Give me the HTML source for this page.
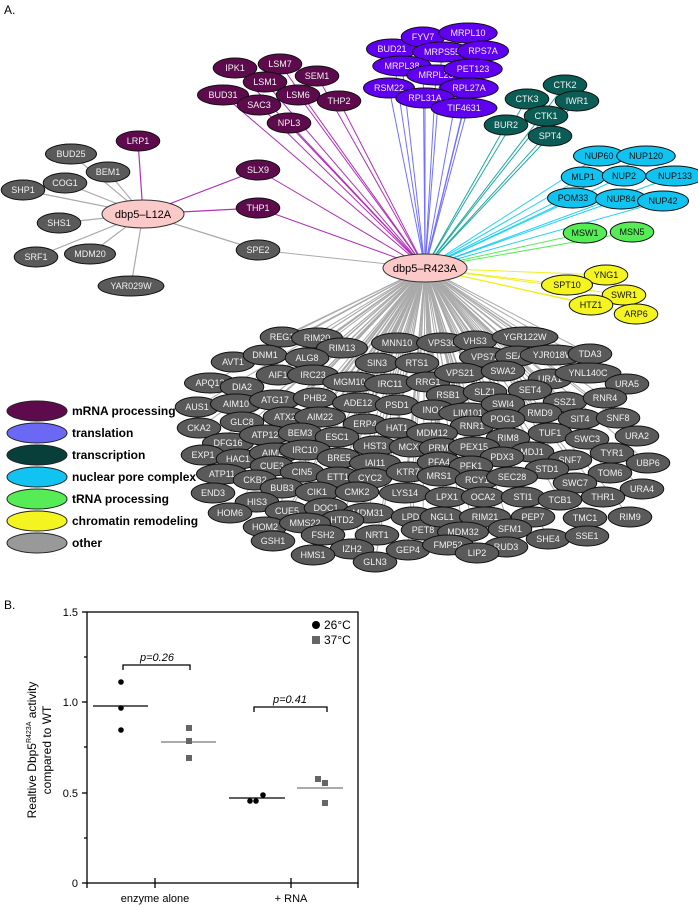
<!DOCTYPE html>
<html><head><meta charset="utf-8"><style>
body{margin:0;background:#fff;width:698px;height:907px;overflow:hidden}
svg{display:block;font-family:"Liberation Sans",sans-serif}
</style></head><body>
<svg id="s" width="698" height="907" viewBox="0 0 698 907" xmlns="http://www.w3.org/2000/svg">
<g id="edges"></g><g id="nodes"></g>
<text x="4" y="14" font-size="12">A.</text>
<text x="4" y="609" font-size="12">B.</text>
<g font-size="12" font-weight="bold">
<ellipse cx="37" cy="411" rx="30" ry="10" fill="#5e0b4d" stroke="#222"/><text x="72" y="415">mRNA processing</text>
<ellipse cx="37" cy="433" rx="30" ry="10" fill="#6b68f5" stroke="#222"/><text x="72" y="437">translation</text>
<ellipse cx="37" cy="455" rx="30" ry="10" fill="#083f3a" stroke="#222"/><text x="72" y="459">transcription</text>
<ellipse cx="37" cy="477" rx="30" ry="10" fill="#11c3f0" stroke="#222"/><text x="72" y="481">nuclear pore complex</text>
<ellipse cx="37" cy="499" rx="30" ry="10" fill="#55ec55" stroke="#222"/><text x="72" y="503">tRNA processing</text>
<ellipse cx="37" cy="521" rx="30" ry="10" fill="#f4f421" stroke="#222"/><text x="72" y="525">chromatin remodeling</text>
<ellipse cx="37" cy="543" rx="30" ry="10" fill="#999" stroke="#222"/><text x="72" y="547">other</text>
</g>
<g stroke="#000" stroke-width="1.3" fill="none">
<rect x="87" y="612" width="271" height="271"/>
<line x1="82" y1="883" x2="87" y2="883"/><line x1="82" y1="793" x2="87" y2="793"/><line x1="82" y1="702" x2="87" y2="702"/><line x1="82" y1="612" x2="87" y2="612"/>
<line x1="84" y1="838" x2="87" y2="838"/><line x1="84" y1="747" x2="87" y2="747"/><line x1="84" y1="657" x2="87" y2="657"/>
<line x1="155" y1="878" x2="155" y2="888"/><line x1="291" y1="878" x2="291" y2="888"/><line x1="87" y1="883" x2="87" y2="888"/><line x1="358" y1="883" x2="358" y2="888"/>
<polyline points="123,670 123,665 190,665 190,670"/>
<polyline points="254,712 254,707 327,707 327,712"/>
<line x1="93" y1="706" x2="148" y2="706"/><line x1="229" y1="798" x2="285" y2="798"/>
</g>
<g stroke="#777" stroke-width="1.3"><line x1="161" y1="742" x2="216" y2="742"/><line x1="297" y1="788" x2="343" y2="788"/></g>
<g fill="#000"><circle cx="121" cy="682" r="2.8"/><circle cx="121" cy="708" r="2.8"/><circle cx="121" cy="730" r="2.8"/>
<circle cx="250" cy="801" r="2.8"/><circle cx="256" cy="801" r="2.8"/><circle cx="263" cy="795" r="2.8"/><circle cx="316" cy="625" r="4"/></g>
<g fill="#666"><rect x="186" y="725" width="6" height="6"/><rect x="186" y="738" width="6" height="6"/><rect x="186" y="755" width="6" height="6"/>
<rect x="315" y="776" width="6" height="6"/><rect x="322" y="780" width="6" height="6"/><rect x="322" y="800" width="6" height="6"/><rect x="312" y="636" width="8" height="8"/></g>
<g font-size="11" fill="#000">
<text x="78" y="887" text-anchor="end">0</text><text x="78" y="797" text-anchor="end">0.5</text><text x="78" y="706" text-anchor="end">1.0</text><text x="78" y="616" text-anchor="end">1.5</text>
<text x="155" y="902" text-anchor="middle">enzyme alone</text><text x="291" y="902" text-anchor="middle">+ RNA</text>
<text x="157" y="661" text-anchor="middle" font-style="italic">p=0.26</text><text x="290" y="703" text-anchor="middle" font-style="italic">p=0.41</text>
<text x="324" y="629" font-size="12">26°C</text><text x="324" y="644" font-size="12">37°C</text>
<g transform="translate(36,750) rotate(-90)" text-anchor="middle" font-size="12"><text x="0" y="0">Realtive Dbp5<tspan font-size="7" dy="-5">R423A</tspan><tspan dy="5"> activity</tspan></text><text x="0" y="15">compared to WT</text></g>
</g>
</svg>
<script>
var R=[425,268],L=[143,214];
var P='#5e0b4d',B='#6000f0',T='#0b5c55',C='#11c3f0',G='#55ec55',Y='#f4f421',D='#5a5a5a';
var EC={};EC[P]='#b030b8';EC[B]='#7070ff';EC[T]='#20a8a0';EC[C]='#20d0f8';EC[G]='#55ee55';EC[Y]='#f0f020';EC[D]='#aaa';
var n=[
[P,'IPK1',235,68,'R'],[P,'LSM7',280,64,'R'],[P,'SEM1',317,76,'R'],[P,'LSM1',265,82,'R'],[P,'BUD31',223,95,'R'],[P,'LSM6',298,95,'R'],[P,'THP2',339,101,'R'],[P,'SAC3',259,105,'R'],[P,'NPL3',289,123,'R'],
[P,'LRP1',138,141,'L'],[P,'SLX9',258,170,'RL'],[P,'THP1',258,208,'RL'],
[B,'BUD21',392,49,'R'],[B,'FYV7',423,37,'R'],[B,'MRPL10',468,33,'R'],[B,'MRPS55',442,52,'R'],[B,'RPS7A',483,51,'R'],[B,'MRPL38',402,66,'R'],[B,'MRPL23',436,75,'R'],[B,'PET123',473,69,'R'],[B,'RSM22',389,88,'R'],[B,'RPL27A',469,88,'R'],[B,'RPL31A',425,98,'R'],[B,'TIF4631',464,108,'R'],
[T,'CTK2',565,85,'R'],[T,'CTK3',527,99,'R'],[T,'IWR1',577,101,'R'],[T,'CTK1',546,116,'R'],[T,'BUR2',506,125,'R'],[T,'SPT4',550,136,'R'],
[C,'NUP60',599,156,'R'],[C,'NUP120',646,156,'R'],[C,'MLP1',583,177,'R'],[C,'NUP2',624,176,'R'],[C,'NUP133',675,176,'R'],[C,'POM33',573,198,'R'],[C,'NUP84',621,199,'R'],[C,'NUP42',663,201,'R'],
[G,'MSW1',585,233,'R'],[G,'MSN5',632,232,'R'],
[Y,'YNG1',606,275,'R'],[Y,'SPT10',567,285,'R'],[Y,'SWR1',624,295,'R'],[Y,'HTZ1',591,305,'R'],[Y,'ARP6',636,314,'R'],
[D,'BUD25',71,154,'L'],[D,'BEM1',108,172,'L'],[D,'COG1',65,183,'L'],[D,'SHP1',23,190,'L'],[D,'SHS1',59,223,'L'],[D,'SRF1',36,257,'L'],[D,'MDM20',90,254,'L'],[D,'YAR029W',131,286,'L'],[D,'SPE2',258,250,'RL']];
var g="REG1 282 337,RIM20 317 338,RIM13 342 348,MNN10 397 343,AVT1 233 362,DNM1 265 355,ALG8 307 358,SIN3 377 363,RTS1 417 363,AIF1 278 375,IRC23 313 375,MGM101 352 382,IRC11 390 384,APQ12 210 383,DIA2 242 387,AUS1 197 407,AIM10 236 404,ATG17 275 400,PHB2 315 398,ADE12 358 403,PSD1 397 405,CKA2 199 428,GLC8 242 422,ATX2 285 417,AIM22 320 417,ERP4 365 424,HAT1 397 428,DFG16 228 443,ATP12 265 435,BEM3 300 433,ESC1 337 437,EXP1 203 455,HAC1 238 459,AIM20 275 453,IRC10 305 450,BRE5 339 458,HST3 375 446,MCX1 411 447,IAI11 375 463,ATP11 222 474,CUE3 272 466,CKB2 255 480,CIN5 302 472,ETT1 338 477,CYC2 370 478,KTR7 408 472,END3 213 493,BUB3 282 488,HIS3 257 502,CIK1 317 492,CMK2 357 492,LYS14 405 493,HOM6 230 513,CUE5 287 511,DOC1 326 508,MDM31 368 513,HTD2 342 520,LPD1 413 517,HOM2 265 527,MMS22 305 523,FSH2 323 535,NRT1 377 535,PET8 423 530,GSH1 273 541,IZH2 352 549,HMS1 313 555,GLN3 375 562,GEP4 408 550,VPS36 442 343,VHS3 475 341,YGR122W 525 337,VPS72 485 357,SEA4 517 356,YJR018W 553 355,TDA3 590 354,RRG1 428 382,VPS21 460 373,SWA2 503 371,URA1 550 379,YNL140C 588 373,URA5 627 384,RSB1 448 395,SLZ1 485 392,SET4 530 390,SSZ1 565 402,RNR4 605 398,INO4 433 410,LIM101 468 413,SWI4 503 404,RMD9 540 413,SIT4 580 419,SNF8 618 418,RNR1 472 426,POG1 503 419,MDM12 432 433,RIM8 508 438,TUF1 550 433,SWC3 587 439,URA2 637 436,PRM4 441 448,PEX15 474 447,MDJ1 532 452,PDX3 502 457,SNF7 570 460,TYR1 612 453,UBP6 648 463,PFA4 439 462,PFK1 471 466,STD1 547 469,TOM6 610 473,MRS1 439 476,RCY1 477 480,SEC28 512 477,SWC7 575 483,URA4 642 489,LPX1 447 497,OCA2 483 497,STI1 523 497,TCB1 560 500,THR1 603 497,NGL1 442 517,RIM21 485 517,PEP7 533 517,TMC1 585 518,RIM9 630 517,MDM32 463 532,SFM1 510 529,SHE4 548 539,SSE1 587 536,FMP52 448 545,RUD3 506 547,LIP2 477 553";
g.split(',').forEach(function(s){var a=s.split(' ');n.push([D,a[0],+a[1],+a[2],'R']);});
var NS='http://www.w3.org/2000/svg',E=document.getElementById('edges'),N=document.getElementById('nodes');
function mk(t,at,p){var e=document.createElementNS(NS,t);for(var k in at)e.setAttribute(k,at[k]);p.appendChild(e);return e;}
n.forEach(function(d){var c=EC[d[0]];
 if(d[4].indexOf('R')>=0)mk('line',{x1:R[0],y1:R[1],x2:d[2],y2:d[3],stroke:c,'stroke-width':1},E);
 if(d[4].indexOf('L')>=0)mk('line',{x1:L[0],y1:L[1],x2:d[2],y2:d[3],stroke:c,'stroke-width':1.2},E);});
n.forEach(function(d){var rx=Math.max(18,d[1].length*3.7+7),dark=(d[0]==G||d[0]==Y||d[0]==C);
 mk('ellipse',{cx:d[2],cy:d[3],rx:rx,ry:10,fill:d[0],stroke:'#111','stroke-width':1},N);
 var t=mk('text',{x:d[2],y:d[3]+3.2,'text-anchor':'middle','font-size':9,fill:dark?'#111':'#f2f2f2'},N);t.textContent=d[1];});
[[R,'dbp5\u2013R423A',42],[L,'dbp5\u2013L12A',41]].forEach(function(h){
 mk('ellipse',{cx:h[0][0],cy:h[0][1],rx:h[2],ry:14,fill:'#fcc9c9',stroke:'#333'},N);
 var t=mk('text',{x:h[0][0],y:h[0][1]+4,'text-anchor':'middle','font-size':11,fill:'#000'},N);t.textContent=h[1];});
</script>
</body></html>
